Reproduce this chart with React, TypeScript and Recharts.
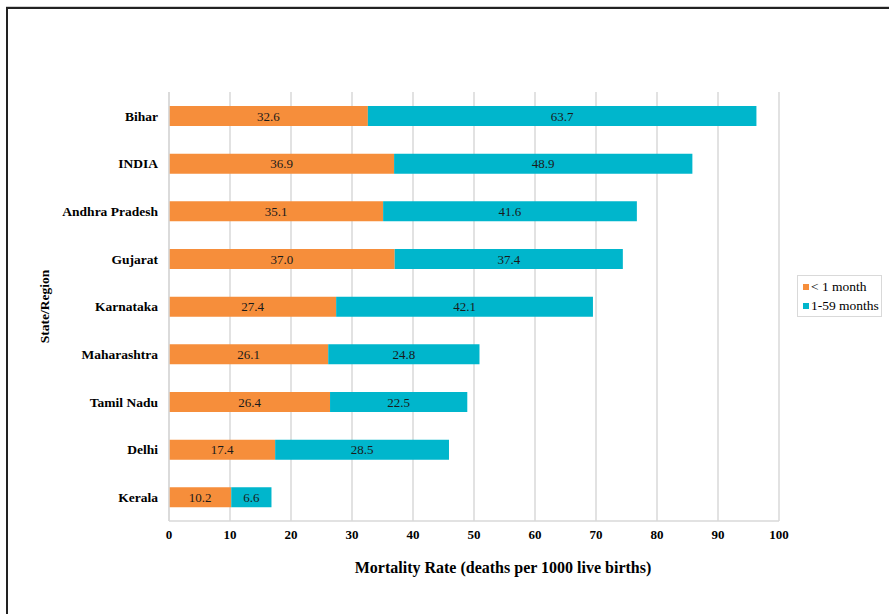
import React from 'react';
import { BarChart, Bar, XAxis, YAxis, CartesianGrid, LabelList } from 'recharts';

const categories = ['Bihar', 'INDIA', 'Andhra Pradesh', 'Gujarat', 'Karnataka', 'Maharashtra', 'Tamil Nadu', 'Delhi', 'Kerala'];
const neonatal = [32.6, 36.9, 35.1, 37.0, 27.4, 26.1, 26.4, 17.4, 10.2];
const postNeonatal = [63.7, 48.9, 41.6, 37.4, 42.1, 24.8, 22.5, 28.5, 6.6];
const xTicks = [0, 10, 20, 30, 40, 50, 60, 70, 80, 90, 100];
const seriesNames = ['< 1 month', '1-59 months'];

const ORANGE = '#F68E3B';
const TEAL = '#00B6CC';
const FONT = '"Liberation Serif", "Times New Roman", serif';

const data = categories.map((c, i) => ({ name: c, a: neonatal[i], b: postNeonatal[i] }));

const YTitle = (props: any) => {
  const vb = props.viewBox || {};
  const x = 44;
  const y = vb.y + vb.height / 2;
  return (
    <text x={x} y={y} transform={`rotate(-90, ${x}, ${y})`} textAnchor="middle" dominantBaseline="central"
      fontFamily={FONT} fontSize={13.5} fontWeight="bold" fill="#000">State/Region</text>
  );
};

const XTitle = (props: any) => {
  const vb = props.viewBox || {};
  const x = vb.x + vb.width / 2 + 29;
  const y = vb.y + 52;
  return (
    <text x={x} y={y} textAnchor="middle" fontFamily={FONT} fontSize={16} fontWeight="bold" fill="#000">
      Mortality Rate (deaths per 1000 live births)
    </text>
  );
};

const LegendBox = () => (
  <div style={{ position: 'absolute', left: 797, top: 275, border: '1px solid #d9d9d9', background: '#fff', padding: '1px 2px 1px 5px', fontFamily: FONT, fontSize: 13.5, color: '#000', lineHeight: '19px', width: 76 }}>
    {[ORANGE, TEAL].map((col, i) => (
      <div key={i} style={{ display: 'flex', alignItems: 'center', whiteSpace: 'nowrap' }}>
        <span style={{ display: 'inline-block', width: 6, height: 6, background: col, marginRight: 2 }} />
        <span>{seriesNames[i]}</span>
      </div>
    ))}
  </div>
);

const fmt = (v: any) => Number(v).toFixed(1);

export default function App() {
  return (
    <div style={{ position: 'absolute', left: 0, top: 0, width: 889, height: 614, background: '#fff', overflow: 'hidden', fontFamily: FONT }}>
      <style>{`.recharts-wrapper text, .recharts-wrapper tspan { font-family: "Liberation Serif", "Times New Roman", serif !important; }`}</style>
      <div style={{ position: 'absolute', left: 6, top: 6, width: 900, height: 1, background: '#d0d0d0' }} />
      <div style={{ position: 'absolute', left: 6, top: 7, width: 900, height: 700, borderLeft: '2px solid #222', borderTop: '2px solid #222' }} />
      <div style={{ position: 'absolute', left: 0, top: 0 }}>
        <BarChart width={889} height={614} data={data} layout="vertical" barSize={20}
          margin={{ top: 92, right: 110, bottom: 53, left: 0 }} style={{ fontFamily: FONT }}>
          <CartesianGrid horizontal={false} vertical stroke="#d9d9d9" strokeWidth={1.5} />
          <XAxis type="number" domain={[0, 100]} ticks={xTicks} interval={0} axisLine={{ stroke: '#d9d9d9', strokeWidth: 1.5 }}
            tickLine={false} tickMargin={3} height={40}
            tick={{ fontSize: 13, fontWeight: 'bold', fill: '#000', fontFamily: FONT }}
            label={<XTitle />} />
          <XAxis xAxisId="top" orientation="top" type="number" domain={[0, 100]} tick={false} tickLine={false}
            axisLine={{ stroke: '#d9d9d9', strokeWidth: 1.5 }} height={0} />
          <YAxis type="category" dataKey="name" width={169} axisLine={{ stroke: '#d9d9d9', strokeWidth: 1.5 }} tickLine={false}
            tickMargin={5} tick={{ fontSize: 13.5, fontWeight: 'bold', fill: '#000', fontFamily: FONT }}
            label={<YTitle />} />
          <Bar dataKey="a" name={seriesNames[0]} stackId="s" fill={ORANGE} isAnimationActive={false}>
            <LabelList dataKey="a" position="center" formatter={fmt} fill="#1a1a1a" fontSize={13} fontFamily={FONT} />
          </Bar>
          <Bar dataKey="b" name={seriesNames[1]} stackId="s" fill={TEAL} isAnimationActive={false}>
            <LabelList dataKey="b" position="center" formatter={fmt} fill="#1a1a1a" fontSize={13} fontFamily={FONT} />
          </Bar>
        </BarChart>
      </div>
      <LegendBox />
    </div>
  );
}
